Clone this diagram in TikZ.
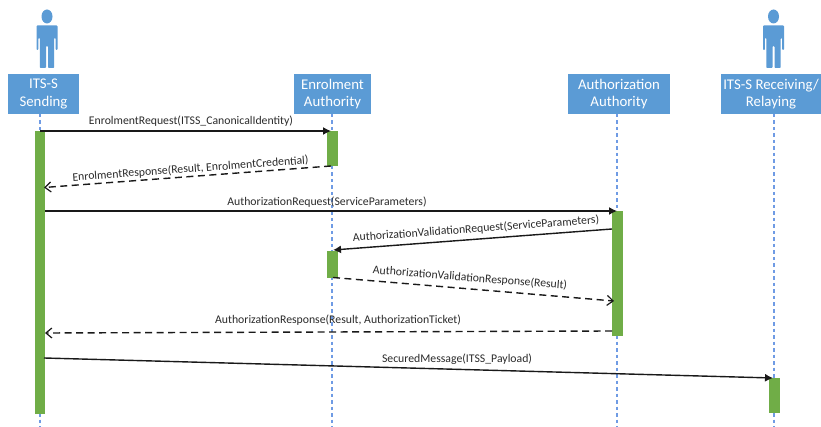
\documentclass[tikz,border=0pt]{standalone}
\usepackage{fontspec}
\setmainfont{Carlito}
\usetikzlibrary{arrows.meta}
\definecolor{boxblue}{HTML}{5B9BD5}
\definecolor{actgreen}{HTML}{70AD47}
\definecolor{lifeblue}{HTML}{6F9BE4}
\definecolor{labelgray}{HTML}{2B2B2B}
\tikzset{
  x=1pt,y=-1pt,
  party/.style={fill=boxblue,draw=none,text=white,align=center,inner sep=0pt,
    font=\fontsize{14.8}{17.5}\selectfont},
  activation/.style={fill=actgreen,draw=none,inner sep=0pt},
  lifeline/.style={draw=lifeblue,line width=1.1pt,dash pattern=on 3.5pt off 3pt},
  msgsolid/.style={draw=black!90,line width=1.4pt,-{Latex[length=8pt,width=8pt]}},
  msgreply/.style={draw=black!90,line width=1.4pt,dash pattern=on 7pt off 4.5pt,
    -{Straight Barb[length=6pt,width=10pt,line width=1.2pt]}},
  msglabel/.style={text=labelgray,inner sep=0pt,font=\fontsize{11.75}{13}\selectfont},
  actor/.pic={
    \fill[boxblue] (0,16.5) ellipse [x radius=5.5,y radius=7];
    \fill[boxblue,rounded corners=0.8pt] (-10.5,25.5) -- (10.5,25.5) -- (10.5,50) -- (8.7,50)
      -- (8.7,38) -- (7.2,38) -- (7.2,68) -- (1,68) -- (1,46) -- (-1,46) -- (-1,68)
      -- (-7.2,68) -- (-7.2,38) -- (-8.7,38) -- (-8.7,50) -- (-10.5,50) -- cycle;
  }
}
\begin{document}
\begin{tikzpicture}
\useasboundingbox (0,0) rectangle (821,427);
\fill[white] (0,0) rectangle (821,427);

% actors
\pic at (47,0) {actor};
\pic at (773.5,0) {actor};

% parties
\node[party,minimum width=71pt,minimum height=40pt] (its) at (43.5,94) {ITS-S\\Sending};
\node[party,minimum width=77pt,minimum height=40pt] (ea) at (332.5,94) {Enrolment\\Authority};
\node[party,minimum width=102pt,minimum height=40pt] (aa) at (619,94) {Authorization\\Authority};
\node[party,minimum width=100pt,minimum height=40pt] (rcv) at (771,94) {ITS-S Receiving/\\Relaying};

% lifeline ends
\coordinate (itsTop) at (40,114);
\coordinate (itsEnd) at (40,427);
\coordinate (eaTop) at (332,114);
\coordinate (eaEnd) at (332,427);
\coordinate (aaTop) at (617,114);
\coordinate (aaEnd) at (617,427);
\coordinate (rcvTop) at (774,114);
\coordinate (rcvEnd) at (774,427);
\draw[lifeline] (itsTop) -- (itsEnd);
\draw[lifeline] (eaTop) -- (eaEnd);
\draw[lifeline] (aaTop) -- (aaEnd);
\draw[lifeline] (rcvTop) -- (rcvEnd);

% activations
\node[activation,minimum width=10.5pt,minimum height=283pt] (itsA) at (40,272.5) {};
\node[activation,minimum width=11pt,minimum height=35pt] (eaA) at (332.5,148.5) {};
\node[activation,minimum width=11pt,minimum height=27pt] (eaB) at (332.5,264.5) {};
\node[activation,minimum width=11pt,minimum height=125pt] (aaA) at (617.5,273.5) {};
\node[activation,minimum width=11pt,minimum height=35pt] (rcvA) at (774.5,395.5) {};

% message end points
\coordinate (m1a) at (40,131);   \coordinate (m1b) at (331,131);
\coordinate (m2a) at (331,166);  \coordinate (m2b) at (44,187.5);
\coordinate (m3a) at (45,211);   \coordinate (m3b) at (617,211);
\coordinate (m4a) at (612,229);  \coordinate (m4b) at (333,250);
\coordinate (m5a) at (333,277.5);\coordinate (m5b) at (614,301);
\coordinate (m6a) at (612,331);  \coordinate (m6b) at (45,333);
\coordinate (m7a) at (44,358);   \coordinate (m7b) at (773,378);

\draw[msgsolid] (m1a) -- (m1b);
\draw[msgreply] (m2a) -- (m2b);
\draw[msgsolid] (m3a) -- (m3b);
\draw[msgsolid] (m4a) -- (m4b);
\draw[msgreply] (m5a) -- (m5b);
\draw[msgreply] (m6a) -- (m6b);
\draw[msgsolid] (m7a) -- (m7b);

% labels
\node[msglabel] (l1) at (191,121) {EnrolmentRequest(ITSS\_CanonicalIdentity)};
\node[msglabel,rotate=4.2] (l2) at (190.5,169) {EnrolmentResponse(Result, EnrolmentCredential)};
\node[msglabel] (l3) at (327,202) {AuthorizationRequest(ServiceParameters)};
\node[msglabel,rotate=4.2] (l4) at (476,229) {AuthorizationValidationRequest(ServiceParameters)};
\node[msglabel,rotate=-4.6] (l5) at (470,278) {AuthorizationValidationResponse(Result)};
\node[msglabel] (l6) at (338,320) {AuthorizationResponse(Result, AuthorizationTicket)};
\node[msglabel] (l7) at (457,359) {SecuredMessage(ITSS\_Payload)};
\end{tikzpicture}
\end{document}
